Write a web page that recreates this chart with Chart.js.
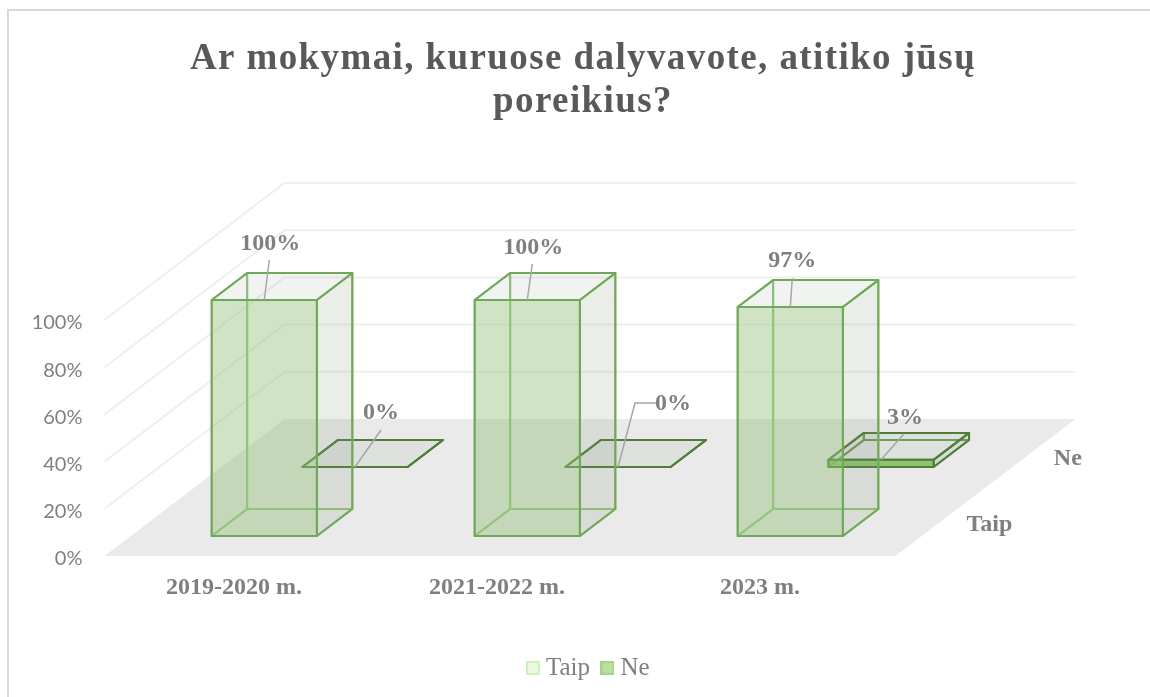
<!DOCTYPE html>
<html lang="lt">
<head>
<meta charset="utf-8">
<title>Ar mokymai atitiko poreikius</title>
<script src="https://cdn.jsdelivr.net/npm/chart.js@4"></script>
<style>
  html, body { margin: 0; background: #fff; }
  canvas { display: block; }
</style>
</head>
<body>
<canvas id="chart" width="1150" height="697"></canvas>
<script>
const categories = ["2019-2020 m.", "2021-2022 m.", "2023 m."];
const seriesNames = ["Taip", "Ne"];
const taipValues = [100, 100, 97];
const neValues = [0, 0, 3];
const percentTicks = [0, 20, 40, 60, 80, 100];
const titleLines = ["Ar mokymai, kuruose dalyvavote, atitiko jūsų", "poreikius?"];

const serif = "'Liberation Serif', 'Times New Roman', serif";
const gray = "#7f7f7f";

// kiek grindys pasislenka gylyje (px)
const depthX = 180;
const depthY = 137;
// kiekvienos eilės priekis ir galas gylyje (0..1)
const rowFront = [0.146, 0.65];
const rowBack = [0.343, 0.847];
const rowLabelDepth = [0.25, 0.735];

const barStyles = [
  { edge: "#70A85A", hidden: "#93C47D", front: "rgba(151,195,126,.45)", side: "rgba(120,135,110,.15)", top: "rgba(120,135,120,.1)" },
  { edge: "#4F7F37", hidden: "#6E9E55", front: "rgba(120,185,85,.8)", side: "rgba(120,135,110,.15)", top: "rgba(130,150,125,.1)" }
];

// duomenų etikečių vieta: etiketė ir linijos galas nuo stulpelio viršaus vidurio
const labelSpots = [
  [{ lx: 6, ly: -56, ex: 5, ey: -40 }, { lx: 6, ly: -52, ex: 5, ey: -36 }, { lx: 2, ly: -46, ex: 2, ey: -29 }],
  [{ lx: 26, ly: -54, ex: 26, ey: -37 }, { lx: 55, ly: -63, ex: 17, ey: -64, elbow: 39 }, { lx: 24, ly: -42, ex: 23, ey: -26 }]
];

function swatch(fill, stroke) {
  const c = document.createElement("canvas");
  c.width = 14;
  c.height = 14;
  const g = c.getContext("2d");
  g.fillStyle = fill;
  g.fillRect(0, 0, 14, 14);
  g.strokeStyle = stroke;
  g.lineWidth = 2;
  g.strokeRect(1, 1, 12, 12);
  return c;
}
const swatches = [swatch("#E9F8DF", "#CDEFB8"), swatch("#B9E0A0", "#A9D18E")];

function poly(ctx, pts, fill, stroke, width) {
  ctx.beginPath();
  pts.forEach((p, i) => (i ? ctx.lineTo(p[0], p[1]) : ctx.moveTo(p[0], p[1])));
  ctx.closePath();
  if (fill) {
    ctx.fillStyle = fill;
    ctx.fill();
  }
  if (stroke) {
    ctx.strokeStyle = stroke;
    ctx.lineWidth = width || 2;
    ctx.lineJoin = "round";
    ctx.stroke();
  }
}

function at(x, y, d) {
  return [x + depthX * d, y - depthY * d];
}

function drawBar(ctx, bar, row) {
  const st = barStyles[row];
  const l = bar.x - bar.width / 2;
  const r = bar.x + bar.width / 2;
  const f = rowFront[row];
  const b = rowBack[row];
  const y0 = bar.base;
  const y1 = bar.y;

  // paslėptos sienelės
  poly(ctx, [at(l, y0, b), at(r, y0, b), at(r, y1, b), at(l, y1, b)], null, st.hidden);
  poly(ctx, [at(l, y0, f), at(l, y0, b), at(l, y1, b), at(l, y1, f)], null, st.hidden);
  poly(ctx, [at(l, y0, f), at(r, y0, f), at(r, y0, b), at(l, y0, b)], null, st.hidden);
  // matomos sienelės
  poly(ctx, [at(r, y0, f), at(r, y0, b), at(r, y1, b), at(r, y1, f)], st.side, st.edge);
  poly(ctx, [at(l, y1, f), at(r, y1, f), at(r, y1, b), at(l, y1, b)], st.top, st.edge);
  poly(ctx, [at(l, y0, f), at(r, y0, f), at(r, y1, f), at(l, y1, f)], st.front, st.edge);
}

const bars3d = {
  id: "bars3d",
  beforeDraw(chart) {
    const ctx = chart.ctx;
    ctx.save();
    ctx.strokeStyle = "#D9D9D9";
    ctx.lineWidth = 2;
    ctx.beginPath();
    ctx.moveTo(8, 697);
    ctx.lineTo(8, 10);
    ctx.lineTo(1150, 10);
    ctx.stroke();
    ctx.restore();

    const title = chart.titleBlock;
    if (!title.spaced) {
      const drawTitle = title.draw;
      title.draw = function () {
        ctx.letterSpacing = "1.4px";
        drawTitle.call(this);
        ctx.letterSpacing = "0px";
      };
      title.spaced = true;
    }
  },
  afterLayout(chart) {
    chart.titleBlock.left = 0;
    chart.titleBlock.right = 1166;
    chart.legend.left = 0;
    chart.legend.right = 1182;
    chart.legend.top = 638.5;
  },
  beforeDatasetsDraw(chart) {
    const ctx = chart.ctx;
    const { left, right } = chart.chartArea;
    const yScale = chart.scales.y;
    const y0 = yScale.getPixelForValue(0);
    ctx.save();
    poly(ctx, [[left - 2, y0], [right, y0], at(right, y0, 1), at(left - 2, y0, 1)], "#EAEAEA");
    ctx.strokeStyle = "#EFEFEF";
    ctx.lineWidth = 2;
    yScale.ticks.forEach(t => {
      if (t.value === 0) return;
      const y = yScale.getPixelForValue(t.value);
      const corner = at(left - 2, y, 1);
      const end = at(right, y, 1);
      ctx.beginPath();
      ctx.moveTo(left - 2, y);
      ctx.lineTo(corner[0], corner[1]);
      ctx.lineTo(end[0], end[1]);
      ctx.stroke();
    });
    ctx.restore();
  },
  beforeDatasetDraw(chart, args) {
    const ctx = chart.ctx;
    ctx.save();
    args.meta.data.forEach(bar => drawBar(ctx, bar, args.index));
    ctx.restore();
    return false;
  },
  afterDatasetsDraw(chart) {
    const ctx = chart.ctx;
    ctx.save();
    ctx.textBaseline = "middle";
    chart.data.datasets.forEach((ds, row) => {
      chart.getDatasetMeta(row).data.forEach((bar, i) => {
        const top = at(bar.x, bar.y, rowFront[row]);
        const spot = labelSpots[row][i];
        ctx.strokeStyle = "#A6A6A6";
        ctx.lineWidth = 1.5;
        ctx.beginPath();
        ctx.moveTo(top[0], top[1]);
        ctx.lineTo(top[0] + spot.ex, top[1] + spot.ey);
        if (spot.elbow) ctx.lineTo(top[0] + spot.elbow, top[1] + spot.ey);
        ctx.stroke();
        ctx.font = "bold 24px " + serif;
        ctx.fillStyle = gray;
        ctx.textAlign = "center";
        ctx.fillText(ds.data[i] + "%", top[0] + spot.lx, top[1] + spot.ly);
      });
      // eilių pavadinimai dešinėje
      const p = at(chart.chartArea.right, chart.scales.y.getPixelForValue(0), rowLabelDepth[row]);
      ctx.font = "bold 24px " + serif;
      ctx.fillStyle = gray;
      ctx.textAlign = "left";
      ctx.fillText(ds.label, p[0] + 26, p[1] + 3);
    });
    ctx.restore();
  }
};

new Chart(document.getElementById("chart"), {
  type: "bar",
  data: {
    labels: categories,
    datasets: [
      { label: seriesNames[0], data: taipValues, backgroundColor: "#E9F8DF", borderColor: "#CDEFB8" },
      { label: seriesNames[1], data: neValues, backgroundColor: "#B9E0A0", borderColor: "#A9D18E" }
    ]
  },
  options: {
    responsive: false,
    animation: false,
    layout: { padding: { left: 0, right: 254.5, top: 0, bottom: 0 } },
    datasets: { bar: { grouped: false, barPercentage: 0.4, categoryPercentage: 1 } },
    plugins: {
      tooltip: { enabled: false },
      title: {
        display: true,
        text: titleLines,
        color: "#595959",
        font: { family: serif, size: 37, weight: "bold", lineHeight: 43 / 37 },
        padding: { top: 38, bottom: 196 }
      },
      legend: {
        display: true,
        position: "bottom",
        labels: {
          usePointStyle: true,
          pointStyleWidth: 1,
          boxHeight: 14,
          padding: 17,
          color: gray,
          font: { family: serif, size: 25 },
          generateLabels: chart => chart.data.datasets.map((d, i) => ({
            text: d.label,
            pointStyle: swatches[i],
            fontColor: gray,
            datasetIndex: i,
            lineWidth: 0
          }))
        }
      }
    },
    scales: {
      x: {
        grid: { display: false, drawTicks: false },
        border: { display: false },
        afterFit: s => { s.height = 89; },
        ticks: {
          maxRotation: 0,
          padding: 17,
          labelOffset: -4,
          color: gray,
          font: { family: serif, size: 24, weight: "bold" }
        }
      },
      y: {
        min: 0,
        max: 100,
        grid: { display: false, drawTicks: false },
        border: { display: false },
        afterBuildTicks: s => { s.ticks = percentTicks.map(value => ({ value })); },
        afterFit: s => { s.width = 106.5; },
        ticks: {
          padding: 24,
          labelOffset: 3,
          color: gray,
          font: { family: "Lato", size: 20 },
          callback: v => v + "%"
        }
      }
    }
  },
  plugins: [bars3d]
});
</script>
</body>
</html>
